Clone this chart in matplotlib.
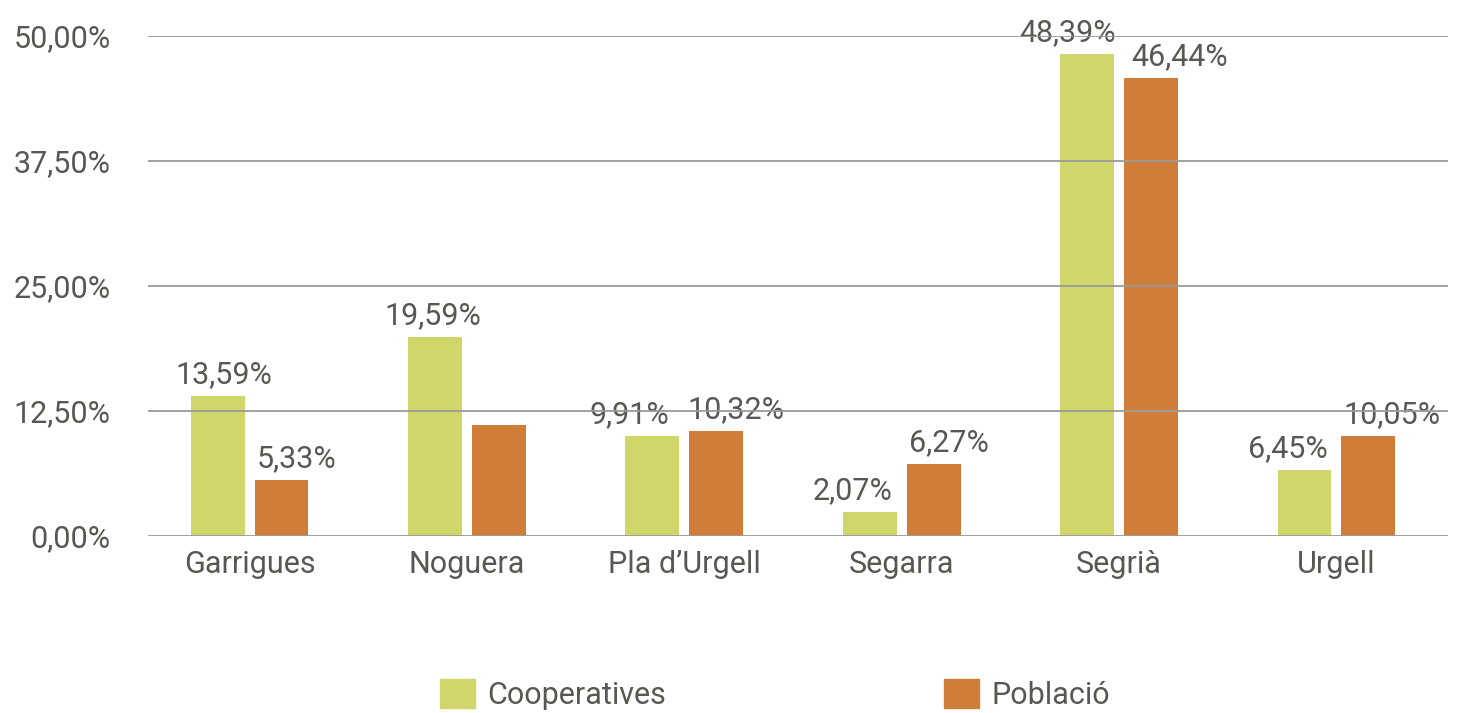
import matplotlib
matplotlib.use("Agg")
import matplotlib.pyplot as plt
from matplotlib.patches import Patch
import numpy as np

categories = ["Garrigues", "Noguera", "Pla d\u2019Urgell", "Segarra", "Segrià", "Urgell"]
# bar heights
cooperatives = [14.0, 19.9, 10.0, 2.4, 48.2, 6.6]
poblacio = [5.6, 11.1, 10.5, 7.2, 45.8, 10.0]
# data labels as printed
coop_labels = ["13,59%", "19,59%", "9,91%", "2,07%", "48,39%", "6,45%"]
pob_labels = ["5,33%", "", "10,32%", "6,27%", "46,44%", "10,05%"]
yticks = [0, 12.5, 25, 37.5, 50]
ytick_labels = ["0,00%", "12,50%", "25,00%", "37,50%", "50,00%"]
series_names = ["Cooperatives", "Població"]

# horizontal nudges of the data labels (pixels), as placed in the reference
coop_label_dx = [6, -2, -23, -17, -20, -17]
pob_label_dx = [15, 0, 20, 15, 29, 24]

GREEN = "#D0D66A"
ORANGE = "#D07D3A"
TEXT = "#585853"
GRID = "#9A9A9A"
FS = 22

plt.rcParams["font.family"] = ["Roboto", "DejaVu Sans"]

fig = plt.figure(figsize=(14.59, 7.13), dpi=100)
ax = fig.add_axes([148 / 1459, 177 / 713, 1300 / 1459, 500 / 713])

x = np.arange(len(categories))
w = 0.248
b1 = ax.bar(x - 0.147, cooperatives, w, color=GREEN, zorder=1)
b2 = ax.bar(x + 0.147, poblacio, w, color=ORANGE, zorder=1)

for bars, labels, dxs in ((b1, coop_labels, coop_label_dx), (b2, pob_labels, pob_label_dx)):
    for rect, lab, dx in zip(bars, labels, dxs):
        if lab:
            ax.annotate(lab, (rect.get_x() + rect.get_width() / 2, rect.get_height()),
                        xytext=(dx * 0.72, 5), textcoords="offset points", ha="center", va="bottom",
                        fontsize=FS, color=TEXT, annotation_clip=False, zorder=2)

ax.set_xlim(-0.467, 5.513)
ax.set_ylim(0, 50)
ax.set_yticks(yticks)
ax.set_yticklabels(ytick_labels)
ax.set_xticks(x)
ax.set_xticklabels(categories)
ax.tick_params(axis="both", length=0, labelsize=FS, colors=TEXT)
ax.tick_params(axis="y", pad=27)
ax.tick_params(axis="x", pad=10)

for y in yticks:
    ax.axhline(y, color=GRID, lw=1.3, zorder=3)
for s in ax.spines.values():
    s.set_visible(False)

handles = [Patch(color=GREEN), Patch(color=ORANGE)]
fig.legend(handles, series_names, loc="lower left", bbox_to_anchor=(437 / 1459, 0.0),
           ncol=2, frameon=False, fontsize=FS, labelcolor=TEXT, borderpad=0, borderaxespad=0.1,
           handlelength=1.15, handleheight=1.05, handletextpad=0.4, columnspacing=9.1)

fig.savefig("out.png", dpi=100)
